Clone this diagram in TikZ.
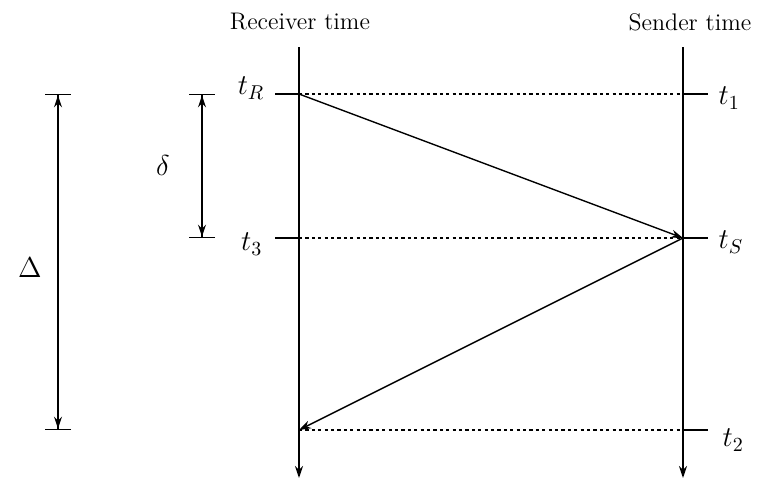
\documentclass[tikz,border=0pt]{standalone}
\usetikzlibrary{arrows.meta}
\begin{document}
\begin{tikzpicture}[x=0.5pt,y=-0.5pt,line width=0.7pt,>={Stealth[length=6pt,width=4pt]}]
\tikzset{timeline/.style={->},
  tick/.style={line width=0.7pt},
  echo/.style={dash pattern=on 1.6pt off 1.6pt},
  span/.style={{Bar[width=13pt]Stealth[length=6pt,width=4pt,sep=0pt]}-{Stealth[length=6pt,width=4pt,sep=0pt]Bar[width=13pt]}},
  label/.style={inner sep=0pt,font=\large},
  event/.style={inner sep=0pt,font=\Large}}
\useasboundingbox (0,0) rectangle (784,482);
% time axes
\node[label] (recv) at (300,22) {Receiver time};
\node[label] (send) at (690,22) {Sender time};
\coordinate (rtop) at (299,47);
\coordinate (rbot) at (299,478);
\coordinate (stop) at (683,47);
\coordinate (sbot) at (683,478);
\draw[timeline] (rtop) -- (rbot);
\draw[timeline] (stop) -- (sbot);
% events
\coordinate (tR) at (299,94);
\coordinate (t3) at (299,238);
\coordinate (t1) at (683,94);
\coordinate (tS) at (683,238);
\coordinate (t2) at (683,430);
\coordinate (rx) at (299,430);
\draw[tick] (tR) -- ++(-24,0) coordinate (tRend);
\draw[tick] (t3) -- ++(-24,0) coordinate (t3end);
\draw[tick] (t1) -- ++(25,0) coordinate (t1end);
\draw[tick] (tS) -- ++(25,0) coordinate (tSend);
\draw[tick] (t2) -- ++(25,0) coordinate (t2end);
\node[event,anchor=east] (lR) at ([xshift=-5pt,yshift=3pt]tRend) {$t_R$};
\node[event,anchor=east] (l3) at ([xshift=-6pt,yshift=-3pt]t3end) {$t_3$};
\node[event,anchor=west] (l1) at ([xshift=5pt,yshift=-2pt]t1end) {$t_1$};
\node[event,anchor=west] (lS) at ([xshift=5pt,yshift=-2pt]tSend) {$t_S$};
\node[event,anchor=west] (l2) at ([xshift=7pt,yshift=-5pt]t2end) {$t_2$};
% messages
\draw[echo] (tR) -- (t1);
\draw[echo] (t3) -- (tS);
\draw[echo] (rx) -- (t2);
\draw[->] (tR) -- (tS);
\draw[->] (tS) -- (rx);
% intervals
\coordinate (Dtop) at (58,94);
\coordinate (Dbot) at (58,430);
\coordinate (dtop) at (202,94);
\coordinate (dbot) at (202,238);
\draw[span] (Dtop) -- (Dbot);
\draw[span] (dtop) -- (dbot);
\node[event] (Delta) at (30,268) {$\Delta$};
\node[event] (delta) at (163,166) {$\delta$};
\end{tikzpicture}
\end{document}
